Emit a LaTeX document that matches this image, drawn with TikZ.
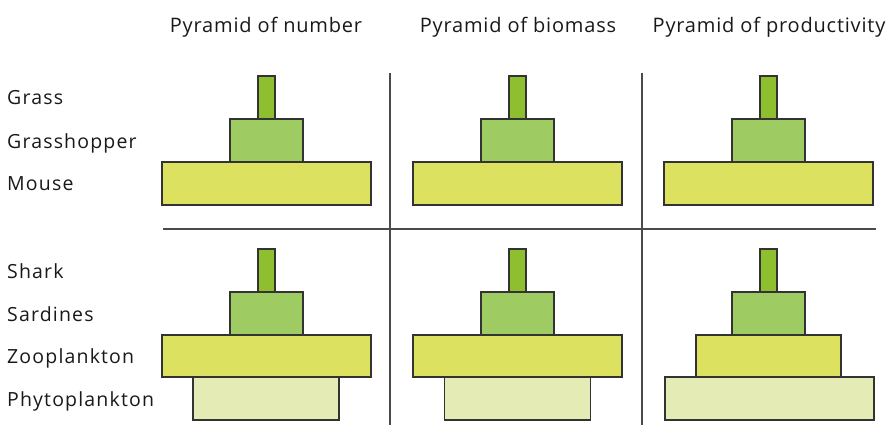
\documentclass[tikz,border=0pt]{standalone}
\usepackage{fontspec}
\setmainfont{Open Sans}
\definecolor{gtop}{HTML}{8DBF2E}
\definecolor{gmid}{HTML}{9FCB63}
\definecolor{gyel}{HTML}{DCE160}
\definecolor{gpale}{HTML}{E5EBB5}
\definecolor{gline}{HTML}{4A4A4A}
\definecolor{gedge}{HTML}{333333}
\begin{document}
\begin{tikzpicture}[x=1pt,y=-1pt,
  blk/.style={draw=gedge,line width=1.4pt,inner sep=0pt,outer sep=0pt},
  hdr/.style={anchor=base,inner sep=0pt,font=\fontsize{20}{24}\selectfont\addfontfeature{LetterSpace=4},text=black!90},
  lbl/.style={anchor=base west,inner sep=0pt,font=\fontsize{19.5}{24}\selectfont\addfontfeature{LetterSpace=6},text=black!90},
  sep/.style={draw=gline,line width=1.8pt}]
\useasboundingbox (0,0) rectangle (890,425);
% headers
\node[hdr] (h1) at (266,33) {Pyramid of number};
\node[hdr] (h2) at (518,33) {Pyramid of biomass};
\node[hdr] (h3) at (769,33) {Pyramid of productivity};
% labels
\node[lbl] (l1) at (7,105) {Grass};
\node[lbl] (l2) at (7,148) {Grasshopper};
\node[lbl] (l3) at (7,190) {Mouse};
\node[lbl] (l4) at (7,278) {Shark};
\node[lbl] (l5) at (7,321) {Sardines};
\node[lbl] (l6) at (7,363) {Zooplankton};
\node[lbl] (l7) at (7,406) {Phytoplankton};
% separators
\coordinate (v1t) at (390,73); \coordinate (v1b) at (390,425);
\coordinate (v2t) at (642,73); \coordinate (v2b) at (642,425);
\coordinate (hl) at (163,229); \coordinate (hr) at (876,229);
\draw[sep] (v1t) -- (v1b);
\draw[sep] (v2t) -- (v2b);
\draw[sep] (hl) -- (hr);
% top row pyramids
\foreach \c/\n in {266.5/a,517.5/b,768.5/c}{
  \node[blk,fill=gyel,minimum width=209pt,minimum height=43pt] (\n3) at (\c,183.5) {};
  \node[blk,fill=gmid,minimum width=73pt,minimum height=43pt] (\n2) at (\c,140.5) {};
  \node[blk,fill=gtop,minimum width=17pt,minimum height=43pt] (\n1) at (\c,97.5) {};
}
% bottom row pyramids
\foreach \c/\n/\zw/\pw/\pc in {266.5/d/209/146/266,517.5/e/209/146/517.5,768.5/f/145/209/769.5}{
  \node[blk,fill=gpale,minimum width=\pw pt,minimum height=43pt] (\n4) at (\pc,398.5) {};
  \node[blk,fill=gyel,minimum width=\zw pt,minimum height=42pt] (\n3) at (\c,356) {};
  \node[blk,fill=gmid,minimum width=73pt,minimum height=43pt] (\n2) at (\c,313.5) {};
  \node[blk,fill=gtop,minimum width=17pt,minimum height=43pt] (\n1) at (\c,270.5) {};
}
\end{tikzpicture}
\end{document}
